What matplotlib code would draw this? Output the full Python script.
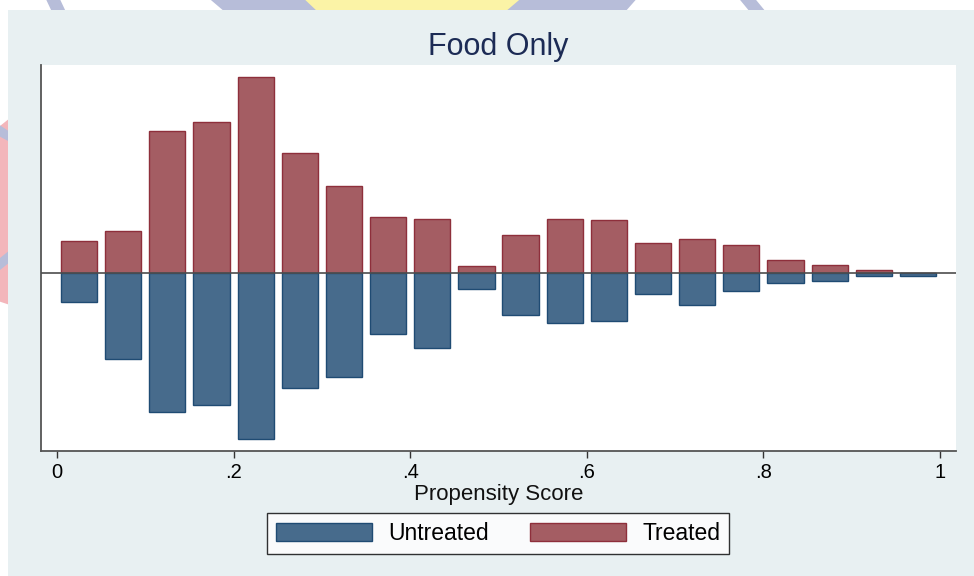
import matplotlib
matplotlib.use("Agg")
import matplotlib.pyplot as plt
from matplotlib.patches import Rectangle, Polygon, Patch
import numpy as np

# Propensity-score bins (midpoints) and bar heights for each group
bin_centers = [0.025, 0.075, 0.125, 0.175, 0.225, 0.275, 0.325, 0.375, 0.425, 0.475,
               0.525, 0.575, 0.625, 0.675, 0.725, 0.775, 0.825, 0.875, 0.925, 0.975]
treated = [3.2, 4.2, 14.2, 15.1, 19.6, 12.0, 8.7, 5.6, 5.4, 0.7,
           3.8, 5.4, 5.3, 3.0, 3.4, 2.8, 1.3, 0.8, 0.3, 0.0]
untreated = [2.9, 8.6, 13.9, 13.2, 16.6, 11.5, 10.4, 6.1, 7.5, 1.6,
             4.2, 5.0, 4.8, 2.1, 3.2, 1.8, 1.0, 0.8, 0.3, 0.3]
xticks = [0, 0.2, 0.4, 0.6, 0.8, 1.0]
xticklabels = ["0", ".2", ".4", ".6", ".8", "1"]

plt.rcParams["font.family"] = ["Liberation Sans", "DejaVu Sans"]

W, H = 974, 576
fig = plt.figure(figsize=(W / 100, H / 100), dpi=100, facecolor="white")


def fp(x, y):
    """Pixel position (from top-left) to figure fraction."""
    return (x / W, 1 - y / H)


# faint logo shapes peeking around the panel
deco = [
    ([(205, -5), (640, -5), (625, 12), (225, 12)], "#b7bdd9"),
    ([(300, -5), (525, -5), (505, 12), (318, 12)], "#fbf3a6"),
    ([(44, -5), (58, -5), (66, 12), (52, 12)], "#b7bdd9"),
    ([(736, -5), (752, -5), (766, 12), (750, 12)], "#b7bdd9"),
    ([(-5, 130), (10, 118), (10, 305), (-5, 300)], "#f3b6bb"),
    ([(-5, 122), (10, 132), (10, 142), (-5, 134)], "#b7bdd9"),
    ([(-5, 262), (10, 250), (10, 262), (-5, 274)], "#b7bdd9"),
]
for pts, col in deco:
    fig.patches.append(Polygon([fp(*p) for p in pts], closed=True, facecolor=col,
                               edgecolor="none", transform=fig.transFigure, zorder=0))

# light panel behind the graph
x0, y0 = fp(8, 576)
fig.patches.append(Rectangle((x0, y0), 1 - x0, (576 - 10) / H, facecolor="#e8f0f2",
                             edgecolor="none", transform=fig.transFigure, zorder=1))

ax = fig.add_axes([41 / W, 125 / H, 915 / W, 386 / H])
ax.set_facecolor("white")
ax.set_zorder(2)

bar_w = 0.041
ax.bar(bin_centers, treated, width=bar_w, color="#a45d63", edgecolor="#8e2f3b",
       linewidth=1.0, label="Treated", zorder=2)
ax.bar(bin_centers, [-v for v in untreated], width=bar_w, color="#476b8c",
       edgecolor="#1f4b73", linewidth=1.0, label="Untreated", zorder=2)
ax.axhline(0, color="#4d4d4d", lw=1.2, zorder=3)

ax.set_xlim(-16 / 883, 1 + 16 / 883)
ax.set_ylim(-17.77, 20.83)

for s in ["top", "right"]:
    ax.spines[s].set_visible(False)
for s in ["left", "bottom"]:
    ax.spines[s].set_color("#555555")
    ax.spines[s].set_linewidth(1.3)

ax.set_yticks([])
ax.set_xticks(xticks)
ax.set_xticklabels(xticklabels, fontsize=14.5, color="black")
ax.tick_params(axis="x", direction="out", length=5, width=1, color="#333333", pad=4)

ax.set_xlabel("Propensity Score", fontsize=16, color="#111111", labelpad=1)
ax.set_title("Food Only", fontsize=22, color="#1c2b55", pad=7)

handles = [Patch(facecolor="#476b8c", edgecolor="#1f4b73", linewidth=1.0),
           Patch(facecolor="#a45d63", edgecolor="#8e2f3b", linewidth=1.0)]
leg = fig.legend(handles, ["Untreated", "Treated"], loc="center",
                 bbox_to_anchor=(498 / W, 1 - 533.5 / H), ncol=2, fontsize=16.5,
                 handlelength=4.2, handleheight=0.85, handletextpad=0.7,
                 columnspacing=1.8, borderpad=0.4, borderaxespad=0,
                 fancybox=False, frameon=True)
leg.get_frame().set_edgecolor("black")
leg.get_frame().set_linewidth(1.0)
leg.get_frame().set_facecolor("white")
leg.set_zorder(3)

fig.savefig("out.png", dpi=100, facecolor=fig.get_facecolor())
